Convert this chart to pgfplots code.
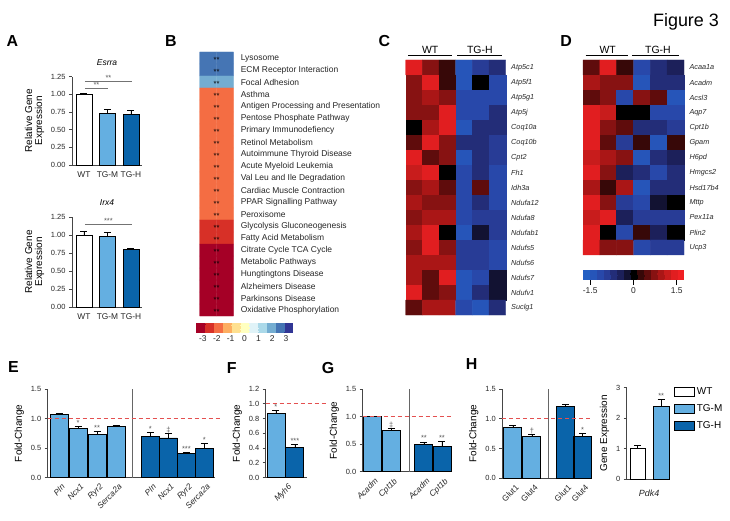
\documentclass[border=0pt]{standalone}
\usepackage{fontspec}
\setmainfont{Liberation Sans}
\usepackage{pgfplots}
\pgfplotsset{compat=1.18}
\definecolor{tgm}{RGB}{100,175,225}
\definecolor{tgh}{RGB}{10,100,170}
\definecolor{axc}{RGB}{70,70,70}
\definecolor{dashred}{RGB}{228,80,80}
\newcommand{\fs}[1]{\fontsize{#1}{#1}\selectfont}
\tikzset{star/.style={font=\fs{7.5}, text=black!65, anchor=south, inner sep=0.8bp},
  sep/.style={draw=black!60, line width=0.7pt},
  rdash/.style={color=dashred, draw=dashred, line width=1.1pt, dash pattern=on 4bp off 3bp, opacity=1}}
\pgfplotsset{
  colormap={rdylbu}{rgb255=(165,0,38) rgb255=(215,48,39) rgb255=(244,109,67) rgb255=(253,174,97) rgb255=(254,224,144) rgb255=(255,255,191) rgb255=(224,243,248) rgb255=(171,217,233) rgb255=(116,173,209) rgb255=(69,117,180) rgb255=(49,54,149)},
  colormap={bkr}{rgb255=(35,95,195) rgb255=(38,85,185) rgb255=(40,72,170) rgb255=(40,60,150) rgb255=(35,45,120) rgb255=(28,32,90) rgb255=(18,18,50) rgb255=(0,0,0) rgb255=(55,8,8) rgb255=(95,12,12) rgb255=(135,18,18) rgb255=(170,22,22) rgb255=(200,28,28) rgb255=(225,30,32) rgb255=(240,32,35)},
  every axis/.append style={scale only axis, enlargelimits=false,
     /pgf/number format/assume math mode=true,
     tick label style={font=\fs{7.5}, text=black!85},
     label style={font=\fs{10}},
     axis line style={-, draw=axc, line width=0.8pt}},
  barax/.style={axis x line*=bottom, axis y line*=left, ybar, bar shift=0pt,
     ymin=0, clip=false, xtick style={draw=none},
     ytick style={draw=axc, line width=0.6pt},
     tick align=outside, major tick length=3bp,
     every axis plot/.append style={draw=black, line width=0.9pt},
     error bars/y dir=plus, error bars/y explicit,
     error bars/error bar style={black, line width=0.8pt},
     error bars/error mark options={black, rotate=90, mark size=3.5bp, line width=0.8pt}},
  rotlab/.style={xticklabel style={rotate=45, anchor=north east, font=\fs{8.3}, xshift=3bp}},
  boxleg/.style={legend image code/.code={\draw[##1, line width=0.8pt] (0bp,-4.5bp) rectangle (20bp,4.5bp);}},
  heat/.style={axis line style={draw=none}, tick style={draw=none},
     xtick=\empty, y dir=reverse, yticklabel pos=right, clip=false},
}
\begin{document}
\begin{tikzpicture}
\useasboundingbox (0,0) rectangle (730bp,521bp);

% ---------------- A: Esrra
\begin{axis}[barax, at={(72bp,356bp)}, anchor=south west, width=70bp, height=88.3bp,
  xmin=-0.51, xmax=2.47, ymax=1.25, bar width=16bp,
  ytick={0,0.25,0.5,0.75,1,1.25}, yticklabels={0.00,0.25,0.50,0.75,1.00,1.25},
  xtick={0,1,2}, xticklabels={WT,TG-M,TG-H}, xticklabel style={font=\fs{8.4}},
  ylabel={Relative Gene\\Expression}, ylabel style={align=center}]
\addplot[fill=white] coordinates {(0,1.00) +- (0,0.02)};
\addplot[fill=tgm] coordinates {(1,0.73) +- (0,0.05)};
\addplot[fill=tgh] coordinates {(2,0.72) +- (0,0.05)};
\draw[black!55, line width=0.6pt] (axis cs:0.04,1.086) -- (axis cs:1.02,1.086);
\draw[black!55, line width=0.6pt] (axis cs:0.04,1.18) -- (axis cs:2.04,1.18);
\node[star] at (axis cs:0.53,1.086) {**};
\node[star] at (axis cs:1.04,1.18) {**};
\node[font=\fs{8.5}\itshape] at (axis description cs:0.5,1.155) {Esrra};
\end{axis}

% ---------------- A: Irx4
\begin{axis}[barax, at={(72bp,214bp)}, anchor=south west, width=70bp, height=90bp,
  xmin=-0.51, xmax=2.47, ymax=1.25, bar width=16bp,
  ytick={0,0.25,0.5,0.75,1,1.25}, yticklabels={0.00,0.25,0.50,0.75,1.00,1.25},
  xtick={0,1,2}, xticklabels={WT,TG-M,TG-H}, xticklabel style={font=\fs{8.4}},
  ylabel={Relative Gene\\Expression}, ylabel style={align=center}]
\addplot[fill=white] coordinates {(0,1.00) +- (0,0.05)};
\addplot[fill=tgm] coordinates {(1,0.98) +- (0,0.05)};
\addplot[fill=tgh] coordinates {(2,0.80) +- (0,0.02)};
\draw[black!55, line width=0.6pt] (axis cs:0.04,1.15) -- (axis cs:2.04,1.15);
\node[star] at (axis cs:1.04,1.15) {***};
\node[font=\fs{8.5}\itshape] at (axis description cs:0.5,1.156) {Irx4};
\end{axis}

% ---------------- B
\begin{axis}[heat, at={(199.7bp,205bp)}, anchor=south west, width=33.6bp, height=264bp,
  xmin=-0.5, xmax=1.5, ymin=-0.5, ymax=21.5,
  ytick={0,...,21}, yticklabel style={font=\fs{8.5}, text=black!85, xshift=4bp},
  yticklabels={Lysosome,ECM Receptor Interaction,Focal Adhesion,Asthma,Antigen Processing and Presentation,Pentose Phosphate Pathway,Primary Immunodefiency,Retinol Metabolism,Autoimmune Thyroid Disease,Acute Myeloid Leukemia,Val Leu and Ile Degradation,Cardiac Muscle Contraction,PPAR Signalling Pathway,Peroxisome,Glycolysis Gluconeogenesis,Fatty Acid Metabolism,Citrate Cycle TCA Cycle,Metabolic Pathways,Hungtingtons Disease,Alzheimers Disease,Parkinsons Disease,Oxidative Phosphorylation},
  colormap name=rdylbu, colormap access=piecewise constant,
  point meta min=-3.5, point meta max=3.5,
  colorbar horizontal,
  colorbar style={at={(parent axis.south west)}, anchor=north west, xshift=-3.7bp, yshift=2bp,
    scale only axis, width=97bp, height=10bp, xtick={-3,-2,-1,0,1,2,3}, xticklabels={-3,-2,-1,0,1,2,3},
    xtick style={draw=none}, ytick=\empty, axis line style={draw=none},
    xticklabel style={font=\fs{8.5}}}]
\addplot[matrix plot*, mesh/cols=2, point meta=explicit] coordinates {
(0,0)[2.5] (1,0)[2.5]
(0,1)[2.5] (1,1)[2.5]
(0,2)[1.9] (1,2)[1.9]
(0,3)[-1.9] (1,3)[-1.9]
(0,4)[-1.9] (1,4)[-1.9]
(0,5)[-1.9] (1,5)[-1.9]
(0,6)[-1.9] (1,6)[-1.9]
(0,7)[-1.9] (1,7)[-1.9]
(0,8)[-1.9] (1,8)[-1.9]
(0,9)[-1.9] (1,9)[-1.9]
(0,10)[-1.9] (1,10)[-1.9]
(0,11)[-1.9] (1,11)[-1.9]
(0,12)[-1.9] (1,12)[-1.9]
(0,13)[-1.9] (1,13)[-1.9]
(0,14)[-2.5] (1,14)[-2.5]
(0,15)[-2.5] (1,15)[-2.5]
(0,16)[-3.2] (1,16)[-3.2]
(0,17)[-3.2] (1,17)[-3.2]
(0,18)[-3.2] (1,18)[-3.2]
(0,19)[-3.2] (1,19)[-3.2]
(0,20)[-3.2] (1,20)[-3.2]
(0,21)[-3.2] (1,21)[-3.2]
};
\pgfplotsinvokeforeach{0,...,21}{\node[font=\fs{7.5}, text=black, yshift=-1.6bp] at (axis cs:0.5,#1) {**};}
\end{axis}

% ---------------- C
\begin{axis}[heat, at={(405.7bp,206bp)}, anchor=south west, width=100bp, height=255bp,
  xmin=-0.5, xmax=5.5, ymin=-0.5, ymax=16.5,
  ytick={0,...,16}, yticklabel style={font=\fs{7.3}\itshape, text=black!85, xshift=2bp},
  yticklabels={Atp5c1,Atp5f1,Atp5g1,Atp5j,Coq10a,Coq10b,Cpt2,Fh1,Idh3a,Ndufa12,Ndufa8,Ndufab1,Ndufs5,Ndufs6,Ndufs7,Ndufv1,Suclg1},
  colormap name=bkr, colormap access=piecewise constant,
  point meta min=-1.75, point meta max=1.75]
\addplot[matrix plot*, mesh/cols=6, point meta=explicit] coordinates {
(0,0)[1.4] (1,0)[0.8] (2,0)[0.2] (3,0)[-1.3] (4,0)[-0.9] (5,0)[-0.8]
(0,1)[0.8] (1,1)[1.4] (2,1)[0.15] (3,1)[-1.3] (4,1)[0.0] (5,1)[-1.2]
(0,2)[0.8] (1,2)[1.0] (2,2)[0.7] (3,2)[-1.1] (4,2)[-1.1] (5,2)[-1.1]
(0,3)[0.8] (1,3)[0.8] (2,3)[1.4] (3,3)[-1.1] (4,3)[-1.1] (5,3)[-0.8]
(0,4)[0.1] (1,4)[1.0] (2,4)[1.4] (3,4)[-1.3] (4,4)[-0.7] (5,4)[-0.6]
(0,5)[0.4] (1,5)[1.4] (2,5)[0.8] (3,5)[-0.8] (4,5)[-0.8] (5,5)[-1.0]
(0,6)[1.5] (1,6)[0.4] (2,6)[0.8] (3,6)[-1.3] (4,6)[-0.7] (5,6)[-0.9]
(0,7)[1.1] (1,7)[1.4] (2,7)[0.1] (3,7)[-1.1] (4,7)[-0.8] (5,7)[-1.1]
(0,8)[0.8] (1,8)[1.0] (2,8)[0.5] (3,8)[-1.2] (4,8)[0.5] (5,8)[-1.2]
(0,9)[1.0] (1,9)[0.8] (2,9)[0.8] (3,9)[-1.1] (4,9)[-0.8] (5,9)[-1.2]
(0,10)[0.8] (1,10)[1.0] (2,10)[1.0] (3,10)[-1.1] (4,10)[-0.9] (5,10)[-1.0]
(0,11)[1.0] (1,11)[1.4] (2,11)[0.1] (3,11)[-1.3] (4,11)[-0.3] (5,11)[-1.0]
(0,12)[0.7] (1,12)[1.4] (2,12)[0.8] (3,12)[-0.9] (4,12)[-0.9] (5,12)[-1.2]
(0,13)[1.0] (1,13)[1.0] (2,13)[1.0] (3,13)[-0.9] (4,13)[-0.9] (5,13)[-1.2]
(0,14)[1.0] (1,14)[0.4] (2,14)[1.4] (3,14)[-1.3] (4,14)[-1.1] (5,14)[-0.3]
(0,15)[1.4] (1,15)[0.4] (2,15)[0.7] (3,15)[-1.3] (4,15)[-0.6] (5,15)[-0.3]
(0,16)[0.4] (1,16)[1.0] (2,16)[1.0] (3,16)[-1.1] (4,16)[-1.3] (5,16)[-0.8]
};
\node[font=\fs{10.5}] at (axis cs:0.97,-1.2) {WT};
\node[font=\fs{10.5}] at (axis cs:3.95,-1.2) {TG-H};
\draw[line width=1.1pt] (axis cs:-0.36,-0.83) -- (axis cs:2.3,-0.83);
\draw[line width=1.1pt] (axis cs:2.58,-0.83) -- (axis cs:5.25,-0.83);
\end{axis}

% ---------------- D
\begin{axis}[heat, at={(583bp,266bp)}, anchor=south west, width=101bp, height=195bp,
  xmin=-0.5, xmax=5.5, ymin=-0.5, ymax=12.5,
  ytick={0,...,12}, yticklabel style={font=\fs{7.3}\itshape, text=black!85, xshift=2bp},
  yticklabels={Acaa1a,Acadm,Acsl3,Aqp7,Cpt1b,Gpam,H6pd,Hmgcs2,Hsd17b4,Mttp,Pex11a,Plin2,Ucp3},
  colormap name=bkr, colormap access=piecewise constant,
  point meta min=-1.75, point meta max=1.75,
  colorbar horizontal,
  colorbar style={at={(parent axis.south west)}, anchor=north west, yshift=-6bp,
    scale only axis, width=101bp, height=10bp, xtick={-1.5,0,1.5}, xticklabels={-1.5,0,1.5},
    xtick pos=left, tick align=outside, major tick length=5bp,
    xtick style={draw=black, line width=1pt}, ytick=\empty, axis line style={draw=none},
    xticklabel style={font=\fs{8.5}}}]
\addplot[matrix plot*, mesh/cols=6, point meta=explicit] coordinates {
(0,0)[0.5] (1,0)[1.4] (2,0)[0.2] (3,0)[-1.1] (4,0)[-0.8] (5,0)[-0.4]
(0,1)[1.0] (1,1)[0.8] (2,1)[0.8] (3,1)[-1.3] (4,1)[-0.6] (5,1)[-0.8]
(0,2)[0.5] (1,2)[0.8] (2,2)[-1.1] (3,2)[0.8] (4,2)[0.5] (5,2)[-1.3]
(0,3)[1.5] (1,3)[1.1] (2,3)[0.0] (3,3)[0.0] (4,3)[-1.1] (5,3)[-1.1]
(0,4)[1.5] (1,4)[0.8] (2,4)[0.5] (3,4)[-0.8] (4,4)[-0.8] (5,4)[-1.0]
(0,5)[1.5] (1,5)[0.5] (2,5)[-0.9] (3,5)[0.2] (4,5)[-1.3] (5,5)[0.2]
(0,6)[1.1] (1,6)[0.9] (2,6)[0.8] (3,6)[-1.4] (4,6)[-0.8] (5,6)[-0.4]
(0,7)[1.4] (1,7)[0.8] (2,7)[-0.4] (3,7)[-0.6] (4,7)[-1.1] (5,7)[-0.8]
(0,8)[1.0] (1,8)[0.2] (2,8)[0.9] (3,8)[-1.4] (4,8)[-0.7] (5,8)[-0.7]
(0,9)[1.4] (1,9)[0.8] (2,9)[-1.0] (3,9)[-1.2] (4,9)[-0.3] (5,9)[0.0]
(0,10)[1.1] (1,10)[1.4] (2,10)[-0.4] (3,10)[-0.9] (4,10)[-0.9] (5,10)[-0.9]
(0,11)[1.4] (1,11)[0.0] (2,11)[-1.2] (3,11)[0.2] (4,11)[-0.5] (5,11)[0.0]
(0,12)[1.4] (1,12)[0.6] (2,12)[0.6] (3,12)[-1.1] (4,12)[-0.9] (5,12)[-0.9]
};
\node[font=\fs{10.5}] at (axis cs:0.97,-1.2) {WT};
\node[font=\fs{10.5}] at (axis cs:3.95,-1.2) {TG-H};
\draw[line width=1.1pt] (axis cs:-0.35,-0.83) -- (axis cs:2.15,-0.83);
\draw[line width=1.1pt] (axis cs:2.41,-0.83) -- (axis cs:5.2,-0.83);
\end{axis}

% ---------------- E
\begin{axis}[barax, rotlab, at={(47.7bp,43.5bp)}, anchor=south west, width=167.2bp, height=88.5bp,
  xmin=-0.6, xmax=8.2, ymax=1.5, bar width=18bp,
  ytick={0,0.5,1,1.5}, yticklabels={0.0,0.5,1.0,1.5},
  xtick={0,1,2,3,4.8,5.75,6.7,7.65},
  xticklabels={\itshape Pln,\itshape Ncx1,\itshape Ryr2,\itshape Serca2a,\itshape Pln,\itshape Ncx1,\itshape Ryr2,\itshape Serca2a},
  ylabel={Fold-Change}]
\addplot[fill=tgm] coordinates {(0,1.07) +- (0,0.02) (1,0.83) +- (0,0.03) (2,0.73) +- (0,0.05) (3,0.87) +- (0,0.01)};
\addplot[fill=tgh] coordinates {(4.8,0.70) +- (0,0.06) (5.75,0.67) +- (0,0.07) (6.7,0.40) +- (0,0.03) (7.65,0.49) +- (0,0.09)};
\draw[sep] (axis cs:3.87,0) -- (axis cs:3.87,1.5);
\draw[rdash] (axis cs:-0.6,1) -- (axis cs:8.47,1);
\node[star] at (axis cs:1,0.86) {*};
\node[star] at (axis cs:2,0.78) {**};
\node[star] at (axis cs:4.8,0.76) {*};
\node[star] at (axis cs:5.75,0.74) {‡};
\node[star] at (axis cs:6.7,0.43) {***};
\node[star] at (axis cs:7.65,0.58) {*};
\end{axis}

% ---------------- F
\begin{axis}[barax, rotlab, at={(265.7bp,43.5bp)}, anchor=south west, width=41bp, height=88.5bp,
  xmin=-0.54, xmax=1.62, ymax=1.2, bar width=18bp,
  ytick={0,0.2,0.4,0.6,0.8,1,1.2}, yticklabels={0.0,0.2,0.4,0.6,0.8,1.0,1.2},
  xtick={0.5}, xticklabels={\itshape Myh6},
  ylabel={Fold-Change}]
\addplot[fill=tgm] coordinates {(0,0.87) +- (0,0.04)};
\addplot[fill=tgh] coordinates {(1,0.41) +- (0,0.04)};
\draw[rdash] (axis cs:-0.54,1) -- (axis cs:2.74,1);
\node[star] at (axis cs:0,0.91) {*};
\node[star] at (axis cs:1,0.45) {***};
\end{axis}

% ---------------- G
\begin{axis}[barax, rotlab, at={(362.7bp,49.3bp)}, anchor=south west, width=88.2bp, height=82.7bp,
  xmin=-0.5, xmax=4.14, ymax=1.5, bar width=18bp,
  ytick={0,0.5,1,1.5}, yticklabels={0.0,0.5,1.0,1.5},
  xtick={0,1,2.72,3.67}, xticklabels={\itshape Acadm,\itshape Cpt1b,\itshape Acadm,\itshape Cpt1b},
  ylabel={Fold-Change}]
\addplot[fill=tgm] coordinates {(0,1.00) +- (0,0.005) (1,0.74) +- (0,0.04)};
\addplot[fill=tgh] coordinates {(2.72,0.49) +- (0,0.05) (3.67,0.46) +- (0,0.09)};
\draw[sep] (axis cs:1.93,0) -- (axis cs:1.93,1.5);
\draw[rdash] (axis cs:-0.5,1) -- (axis cs:4.24,1);
\node[star] at (axis cs:1,0.78) {‡};
\node[star] at (axis cs:2.72,0.54) {**};
\node[star] at (axis cs:3.67,0.55) {**};
\end{axis}

% ---------------- H: Glut
\begin{axis}[barax, rotlab, at={(502.3bp,42.7bp)}, anchor=south west, width=88.5bp, height=89.3bp,
  xmin=-0.56, xmax=4.1, ymax=1.5, bar width=18bp,
  ytick={0,0.5,1,1.5}, yticklabels={0.0,0.5,1.0,1.5},
  xtick={0,1,2.77,3.67}, xticklabels={Glut1,Glut4,Glut1,Glut4},
  ylabel={Fold-Change}]
\addplot[fill=tgm] coordinates {(0,0.85) +- (0,0.04) (1,0.70) +- (0,0.03)};
\addplot[fill=tgh] coordinates {(2.77,1.20) +- (0,0.04) (3.67,0.70) +- (0,0.06)};
\draw[sep] (axis cs:1.89,0) -- (axis cs:1.89,1.5);
\draw[rdash] (axis cs:-0.56,1) -- (axis cs:4.2,1);
\node[star] at (axis cs:1,0.73) {†};
\node[star] at (axis cs:3.67,0.76) {*};
\end{axis}

% ---------------- H: Pdk4
\begin{axis}[barax, at={(626.7bp,41.7bp)}, anchor=south west, width=43.3bp, height=91.6bp,
  xmin=-0.48, xmax=1.38, ymax=3, bar width=15.7bp,
  ytick={0,1,2,3}, yticklabels={0,1,2,3},
  xtick={0.48}, xticklabels={Pdk4}, xticklabel style={font=\fs{9}\itshape, yshift=-4bp},
  ylabel={Gene Expression},
  legend style={at={(1.09,1.02)}, anchor=north west, draw=none, fill=none,
    font=\fs{10}, row sep=4.5bp, inner sep=0pt, cells={anchor=west}}]
\addplot[fill=white, boxleg] coordinates {(0,1.0) +- (0,0.1)};
\addlegendentry{WT}
\addplot[fill=tgm, boxleg] coordinates {(1,2.4) +- (0,0.22)};
\addlegendentry{TG-M}
\addlegendimage{fill=tgh, draw=black, boxleg}
\addlegendentry{TG-H}
\node[star] at (axis cs:1,2.62) {**};
\end{axis}

% ---------------- panel letters and figure title
\node[font=\fs{16}\bfseries] at (12.5bp,480bp) {A};
\node[font=\fs{16}\bfseries] at (171bp,480bp) {B};
\node[font=\fs{16}\bfseries] at (384.5bp,480bp) {C};
\node[font=\fs{16}\bfseries] at (566bp,480bp) {D};
\node[font=\fs{16}\bfseries] at (13.5bp,154bp) {E};
\node[font=\fs{16}\bfseries] at (231.7bp,153bp) {F};
\node[font=\fs{16}\bfseries] at (328bp,153bp) {G};
\node[font=\fs{16}\bfseries] at (471.7bp,157bp) {H};
\node[font=\fs{18}] at (686bp,499bp) {Figure 3};
\end{tikzpicture}
\end{document}
